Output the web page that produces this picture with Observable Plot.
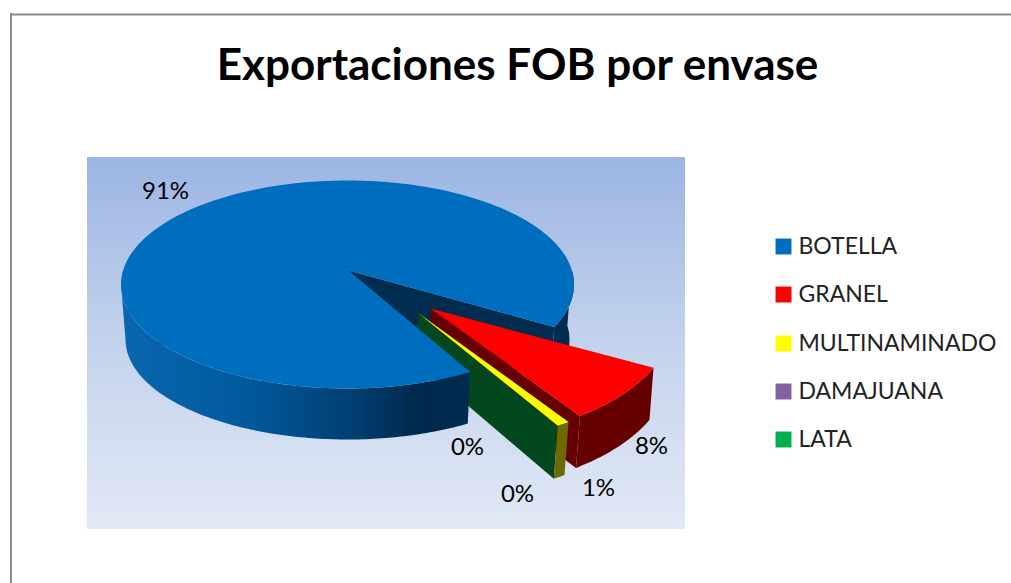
<!DOCTYPE html>
<html>
<head>
<meta charset="utf-8">
<script src="https://cdn.jsdelivr.net/npm/d3@7"></script>
<script src="https://cdn.jsdelivr.net/npm/@observablehq/plot@0.6"></script>
<style>html,body{margin:0;padding:0;background:#fff;overflow:hidden}svg{display:block}</style>
</head>
<body>
<div id="chart"></div>
<script>
// Chart data
const categories = ["BOTELLA", "GRANEL", "MULTINAMINADO", "DAMAJUANA", "LATA"];
const shares = [90.8, 8.2, 0.9, 0.05, 0.05];
const shareLabels = ["91%", "8%", "1%", "0%", "0%"];
const sliceColors = ["#006EBF", "#FF0000", "#FFFF00", "#8064A2", "#00B050"];
const chartTitle = "Exportaciones FOB por envase";

// Drawing geometry of the tilted pie (page units)
const firstAngle = 57.2;
const depth = 53;
const pie = {cx: 347, cy: 284, rx: 226.5, ry: 104, apex: [348, 270]};
const base = {cx: 347, cy: 339, rx: 222, ry: 100};
const burst = {
  GRANEL: {cx: 443, cy: 318, rx: 230, ry: 121, apex: [430, 308], drop: [-4, 52], apexDrop: [0, 50]},
  MULTINAMINADO: {cx: 431.5, cy: 324, rx: 230, ry: 121, apex: [417, 312], drop: [-4, 53], apexDrop: [0, 50]},
  DAMAJUANA: {cx: 431.5, cy: 324, rx: 230, ry: 121, apex: [417, 312], drop: [-4, 53], apexDrop: [0, 50]},
  LATA: {cx: 431.5, cy: 324, rx: 230, ry: 121, apex: [417, 312], drop: [-4, 53], apexDrop: [0, 50]}
};
const labelX = [165, 651, 598, 467, 517];
const labelY = [191, 446, 488, 447, 494];
const legendY = [246, 294, 343, 391, 439];

// Slice angles follow from the shares
let running = firstAngle;
const slices = categories.map((name, i) => {
  const start = running;
  const end = running + shares[i] * 3.6;
  running = end;
  return {name, start, end, color: sliceColors[i]};
});
const rad = (a) => (a * Math.PI) / 180;
const onEllipse = (e, a) => [e.cx + e.rx * Math.cos(rad(a)), e.cy + e.ry * Math.sin(rad(a))];
const sweep = (a0, a1) => {
  const n = Math.max(2, Math.ceil(Math.abs(a1 - a0)));
  return d3.range(n + 1).map((i) => a0 + ((a1 - a0) * i) / n);
};
const arc = (e, a0, a1) => sweep(a0, a1).map((a) => onEllipse(e, a));
const shape = (points, fill) => Plot.line(points, {x: "0", y: "1", fill, stroke: "none", curve: "linear"});

const [botella, granel, multi, dama, lata] = slices;
const blueEnd = botella.end - 360;
const cutTop = onEllipse(pie, blueEnd);
const cutBase = onEllipse(base, blueEnd);

const wedge = (s, b) => [b.apex, ...arc(b, s.start, s.end), b.apex];
const offset = (p, d) => [p[0] + d[0], p[1] + d[1]];
const outerWall = (s, b) => {
  const top = arc(b, s.start, s.end);
  return [...top, ...top.slice().reverse().map((p) => offset(p, b.drop))];
};
const sideWall = (a, b) => {
  const rim = onEllipse(b, a);
  return [b.apex, rim, offset(rim, b.drop), offset(b.apex, b.apexDrop)];
};

const defs = () => {
  const svgDefs = d3.create("svg:defs");
  const bg = svgDefs.append("linearGradient").attr("id", "bg").attr("x1", 0).attr("x2", 0).attr("y1", 0).attr("y2", 1);
  bg.append("stop").attr("offset", "0%").attr("stop-color", "#9BB5E3");
  bg.append("stop").attr("offset", "45%").attr("stop-color", "#C0D0EC");
  bg.append("stop").attr("offset", "100%").attr("stop-color", "#E2E9F6");
  const wall = svgDefs.append("linearGradient").attr("id", "wall").attr("gradientUnits", "userSpaceOnUse")
    .attr("x1", 120).attr("x2", 470).attr("y1", 0).attr("y2", 0);
  [[0, "#0A66B0"], [0.37, "#00599B"], [0.66, "#003F72"], [0.86, "#00284C"], [1, "#002C50"]].forEach(([o, c]) =>
    wall.append("stop").attr("offset", o).attr("stop-color", c));
  return svgDefs.node();
};

const plot = Plot.plot({
  width: 1011,
  height: 583,
  margin: 0,
  x: {domain: [0, 1011], range: [0, 1011], axis: null},
  y: {domain: [0, 583], range: [0, 583], axis: null},
  marks: [
    defs,
    Plot.ruleX([10.5], {y1: 13, y2: 583, stroke: "#8C8C8C", strokeWidth: 2}),
    Plot.ruleY([14], {x1: 10, x2: 1011, stroke: "#8C8C8C", strokeWidth: 2}),
    Plot.rect([[87, 157, 685, 529]], {x1: "0", y1: "1", x2: "2", y2: "3", fill: "url(#bg)"}),

    // botella: back wall and cut wall
    shape([...arc(pie, -8, blueEnd), ...arc(base, blueEnd, -8)], "#002C50"),
    shape([pie.apex, cutTop, cutBase, offset(pie.apex, [0, depth])], "#002C50"),

    // granel side wall, then the lata side wall, both partly behind the botella
    shape(sideWall(granel.end, burst.GRANEL), "#660000"),
    shape(outerWall(granel, burst.GRANEL), "#660000"),
    shape(sideWall(multi.end, burst.LATA), "#03471F"),

    // botella front wall and top face
    shape([...arc(pie, botella.start, 180), ...arc(base, 180, botella.start)], "url(#wall)"),
    shape([pie.apex, ...arc(pie, botella.start, botella.end), pie.apex], botella.color),

    // tops of the exploded slices
    shape(wedge(granel, burst.GRANEL), granel.color),
    shape(outerWall(multi, burst.MULTINAMINADO), "#6B6B00"),
    shape(wedge(multi, burst.MULTINAMINADO), multi.color),

    // text
    Plot.text([chartTitle], {x: 517, y: 65, text: (d) => d, fontFamily: "Lato", fontWeight: "bold", fontSize: 44, fill: "#000", textAnchor: "middle"}),
    Plot.text(shareLabels, {x: labelX, y: labelY, text: (d) => d, fontFamily: "Lato", fontSize: 24, fill: "#000", textAnchor: "middle"}),
    Plot.dot(categories, {x: () => 783, y: legendY, r: 9, symbol: "square", fill: sliceColors, stroke: "none"}),
    Plot.text(categories, {x: () => 798, y: legendY, text: (d) => d, fontFamily: "Lato", fontSize: 23, fill: "#222", textAnchor: "start"})
  ]
});
document.getElementById("chart").appendChild(plot);
</script>
</body>
</html>
